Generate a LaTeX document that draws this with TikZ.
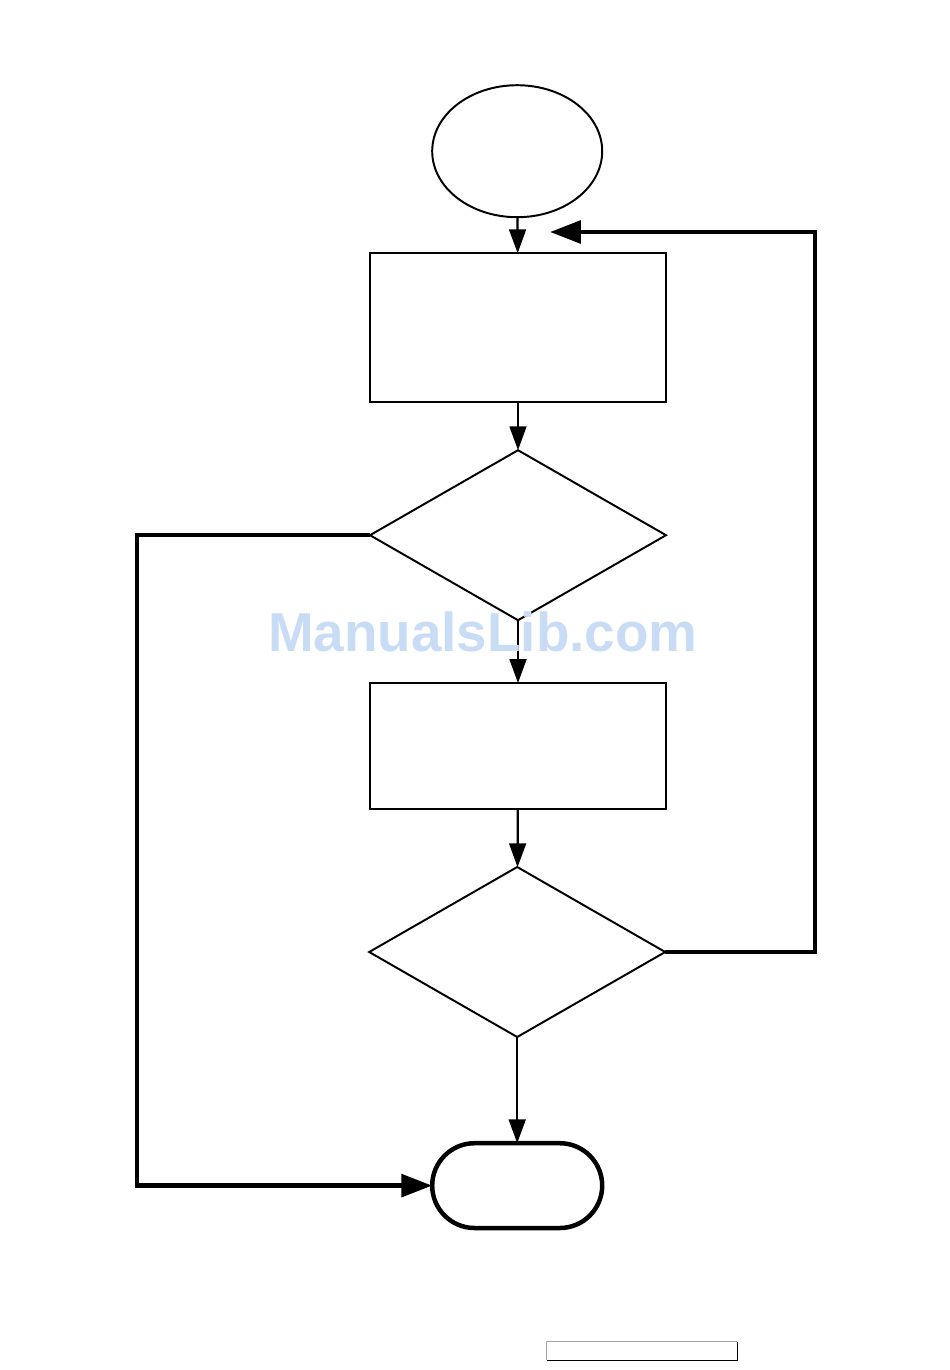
\documentclass[tikz,border=0pt]{standalone}
\usepackage{fontspec}
\setmainfont{Liberation Sans}
\usepackage{tikz}
\usetikzlibrary{shapes.geometric, shapes.misc, arrows.meta, positioning}

\definecolor{markblue}{RGB}{200,220,246}

\begin{document}
\begin{tikzpicture}[
  startnode/.style={draw, ellipse, line width=1.4pt, minimum width=4.25cm, minimum height=3.3cm, inner sep=0pt, outer sep=0pt},
  procbox/.style={draw, rectangle, line width=1.4pt, minimum width=7.4cm, inner sep=0pt, outer sep=0pt},
  testnode/.style={draw, diamond, line width=1.4pt, minimum width=7.4cm, minimum height=4.25cm, inner sep=0pt, outer sep=0pt},
  endnode/.style={draw, rounded rectangle, line width=3.2pt, minimum width=4.25cm, minimum height=2.12cm, inner sep=0pt, outer sep=0pt},
  flow/.style={-{Triangle[length=17pt, width=12pt]}, line width=1.6pt},
  loopback/.style={-{Triangle[length=22pt, width=16pt]}, line width=3.2pt, line join=miter},
]
\useasboundingbox (0,0) rectangle (23.75,-34.25);

% Nodes
\node[startnode] (start) at (12.93,-3.78) {};
\node[procbox, minimum height=3.72cm] (proc1) at (12.95,-8.19) {};
\node[testnode] (test1) at (12.95,-13.38) {};
\node[procbox, minimum height=3.15cm] (proc2) at (12.95,-18.65) {};
\node[testnode] (test2) at (12.93,-23.8) {};
\node[endnode] (stop) at (12.93,-29.64) {};

% Main flow
\draw[flow] (start) -- (proc1);
\draw[flow] (proc1) -- (test1);
\draw[flow] (test1) -- (proc2);
\draw[flow] (proc2) -- (test2);
\draw[flow] (test2) -- (stop);

% Loops
\coordinate (backin) at (13.75,-5.8);
\coordinate (rcorner) at (20.38,-5.8);
\coordinate (lcorner) at (3.43,-29.64);
\draw[loopback] (test2.east) -| (rcorner) -- (backin);
\draw[loopback] (test1.west) -| (lcorner) -- (stop.west);

% Watermark
\node[text=markblue, font=\fontsize{39}{39}\selectfont\bfseries] (mark) at (12.07,-15.8) {ManualsLib.com};

% Page field
\node[minimum width=4.75cm, minimum height=0.45cm, inner sep=0pt] (field) at (16.05,-33.78) {};
\draw[gray!70, line width=0.8pt] (field.south west) |- (field.north east);
\draw[black, line width=0.8pt] (field.south west) -| (field.north east);

\end{tikzpicture}
\end{document}
